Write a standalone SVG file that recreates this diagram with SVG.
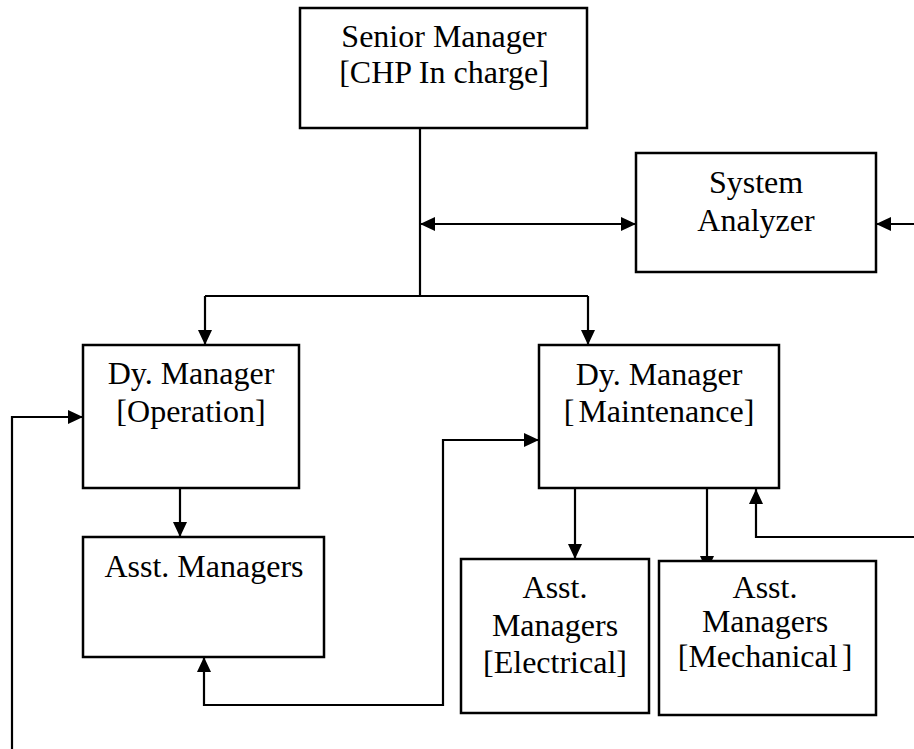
<svg xmlns="http://www.w3.org/2000/svg" width="914" height="749" viewBox="0 0 914 749">
<style>
.box{fill:#fff;stroke:#000;stroke-width:2.5}
.ln{fill:none;stroke:#000;stroke-width:2.2}
.t{font-family:"Liberation Serif","Times New Roman",serif;font-size:32px;fill:#000;text-anchor:middle}
</style>
<defs>
<marker id="ah" viewBox="0 0 15 14" refX="15" refY="7" markerWidth="15" markerHeight="14" markerUnits="userSpaceOnUse" orient="auto-start-reverse">
<path d="M0,0 L15,7 L0,14 z" fill="#000"/>
</marker>
</defs>
<rect width="914" height="749" fill="#fff"/>
<g id="connectors">
<path class="ln" d="M420,128 V296"/>
<path class="ln" d="M205,296 H588"/>
<path class="ln" d="M205,296 V345" marker-end="url(#ah)"/>
<path class="ln" d="M588,296 V345" marker-end="url(#ah)"/>
<path class="ln" d="M420,224 H636" marker-start="url(#ah)" marker-end="url(#ah)"/>
<path class="ln" d="M914,224 H876" marker-end="url(#ah)"/>
<path class="ln" d="M180,488 V537" marker-end="url(#ah)"/>
<path class="ln" d="M12,749 V417 H83" marker-end="url(#ah)"/>
<path class="ln" d="M204,657 V705 H443 V440 H539" marker-start="url(#ah)" marker-end="url(#ah)"/>
<path class="ln" d="M575,488 V559" marker-end="url(#ah)"/>
<path class="ln" d="M707,488 V571" marker-end="url(#ah)"/>
<path class="ln" d="M914,537 H756 V489" marker-end="url(#ah)"/>
</g>
<g id="senior-manager">
<rect class="box" x="300" y="8" width="287" height="120"/>
<text class="t" x="444" y="47">Senior Manager</text>
<text class="t" x="444" y="83">[CHP In charge]</text>
</g>
<g id="system-analyzer">
<rect class="box" x="636" y="153" width="240" height="119"/>
<text class="t" x="756" y="193">System</text>
<text class="t" x="756" y="231">Analyzer</text>
</g>
<g id="dy-manager-operation">
<rect class="box" x="83" y="345" width="216" height="143"/>
<text class="t" x="191" y="384">Dy. Manager</text>
<text class="t" x="191" y="422">[Operation]</text>
</g>
<g id="dy-manager-maintenance">
<rect class="box" x="539" y="345" width="240" height="143"/>
<text class="t" x="659" y="385">Dy. Manager</text>
<text class="t" x="659" y="422">[<tspan dx="4">Maintenance]</tspan></text>
</g>
<g id="asst-managers">
<rect class="box" x="83" y="537" width="241" height="120"/>
<text class="t" x="204" y="577">Asst. Managers</text>
</g>
<g id="asst-managers-electrical">
<rect class="box" x="461" y="559" width="188" height="154"/>
<text class="t" x="555" y="598">Asst.</text>
<text class="t" x="555" y="636">Managers</text>
<text class="t" x="555" y="673">[Electrical]</text>
</g>
<g id="asst-managers-mechanical">
<rect class="box" x="659" y="561" width="217" height="154"/>
<text class="t" x="765" y="598">Asst.</text>
<text class="t" x="765" y="632">Managers</text>
<text class="t" x="765" y="667">[Mechanical<tspan dx="4">]</tspan></text>
</g>
</svg>
